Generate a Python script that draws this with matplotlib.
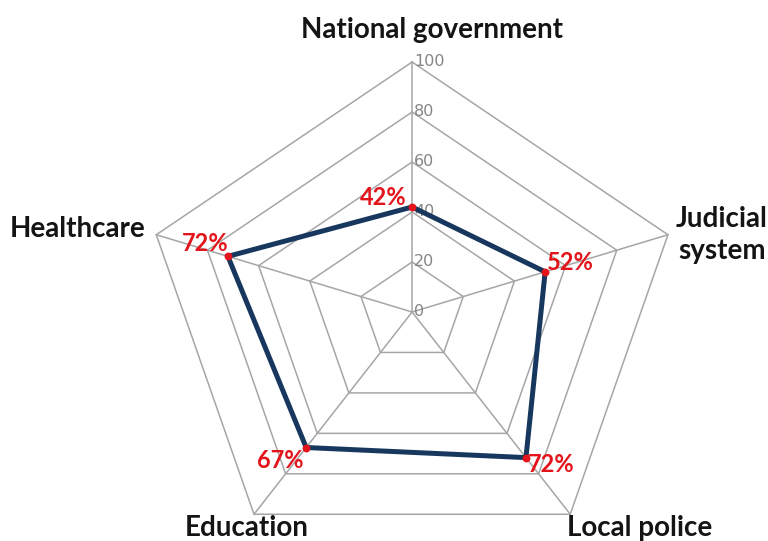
import numpy as np
import matplotlib
matplotlib.use("Agg")
import matplotlib.pyplot as plt

categories = ["National government", "Judicial\nsystem", "Local police", "Education", "Healthcare"]
values = [42, 52, 72, 67, 72]
ring_levels = [0, 20, 40, 60, 80, 100]

# offsets (points) for the category names and the value labels
cat_offsets = [(14, 23), (39, 0), (50, -10), (-5, -10), (-8, 4)]
cat_align = ["center", "center", "center", "center", "right"]
val_offsets = [(-21, 7), (18, 7), (18, -5), (-19, -9), (-16, 9)]

LINE_COLOR = "#17375E"
DOT_COLOR = "#E3141B"
GRID_COLOR = "#A6A6A6"

n = len(categories)
theta = 2 * np.pi * np.arange(n) / n


def to_xy(r):
    r = np.asarray(r, dtype=float)
    return r * np.sin(theta), r * np.cos(theta)


fig = plt.figure(figsize=(7.68, 5.41), dpi=100)
ax = fig.add_axes([0, 0, 1, 1])
ax.set_xlim(-153.2, 132.3)
ax.set_ylim(-91.6, 124.8)
ax.axis("off")

# pentagon rings and spokes
for lvl in ring_levels[1:]:
    x, y = to_xy([lvl] * n)
    ax.plot(np.append(x, x[0]), np.append(y, y[0]), color=GRID_COLOR, lw=1.1, zorder=1)
ox, oy = to_xy([100] * n)
for i in range(n):
    ax.plot([0, ox[i]], [0, oy[i]], color=GRID_COLOR, lw=1.1, zorder=1)

for lvl in ring_levels:
    ax.text(0.8, lvl, str(lvl), color="#858585", fontsize=11.5,
            ha="left", va="center", family="DejaVu Sans", zorder=2)

# data polygon
x, y = to_xy(values)
ax.plot(np.append(x, x[0]), np.append(y, y[0]), color=LINE_COLOR, lw=3.6, zorder=3,
        solid_joinstyle="miter")
ax.scatter(x, y, s=32, color=DOT_COLOR, zorder=4, linewidths=0)

for i, v in enumerate(values):
    ax.annotate(f"{v}%", (x[i], y[i]), xytext=val_offsets[i], textcoords="offset points",
                ha="center", va="center", color=DOT_COLOR, fontsize=17,
                fontweight="bold", family="Lato", zorder=5)

for i, name in enumerate(categories):
    ax.annotate(name, (ox[i], oy[i]), xytext=cat_offsets[i], textcoords="offset points",
                ha=cat_align[i], va="center", color="#141414", fontsize=20,
                fontweight="bold", family="Lato", linespacing=1.3,
                annotation_clip=False)

fig.savefig("out.png", dpi=100)
